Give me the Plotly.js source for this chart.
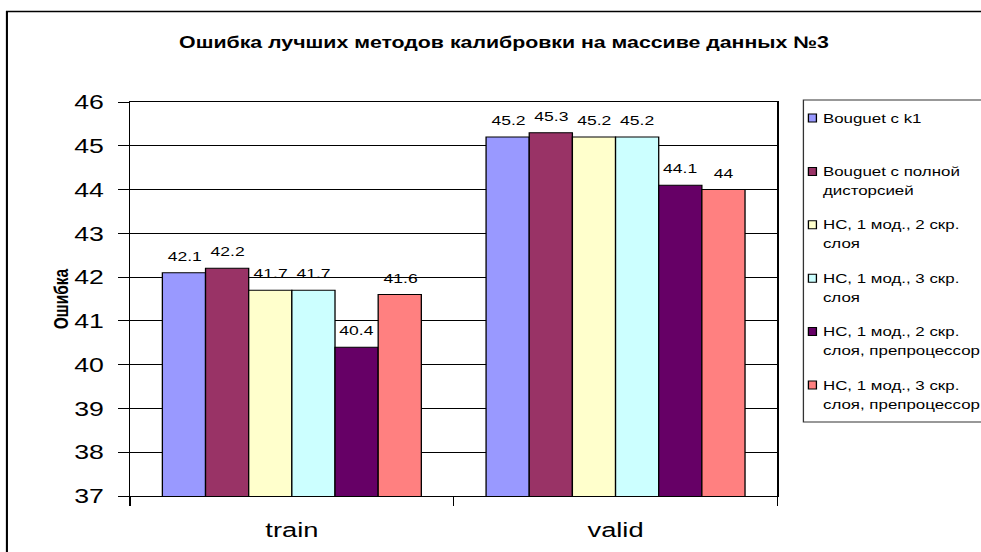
<!DOCTYPE html>
<html>
<head>
<meta charset="utf-8">
<script src="https://cdn.plot.ly/plotly-3.0.1.min.js"></script>
<style>
  html, body { margin: 0; padding: 0; background: #fff; overflow: hidden; }
  #wrap { width: 981px; height: 552px; overflow: hidden; position: relative; }
  #chart { position: absolute; left: 0; top: 0; transform-origin: 0 0; }
</style>
</head>
<body>
<div id="wrap"><div id="chart"></div></div>
<script>
// Calibration error of the best methods, data set #3
const categories = ['train', 'valid'];

// Series labels; "\n" marks where the legend wraps the text
const seriesNames = [
  'Bouguet с k1',
  'Bouguet с полной\nдисторсией',
  'НС, 1 мод., 2 скр.\nслоя',
  'НС, 1 мод., 3 скр.\nслоя',
  'НС, 1 мод., 2 скр.\nслоя, препроцессор',
  'НС, 1 мод., 3 скр.\nслоя, препроцессор'
];

const bougetK1      = [42.1, 45.2];
const bougetFull    = [42.2, 45.3];
const ns2Layers     = [41.7, 45.2];
const ns3Layers     = [41.7, 45.2];
const ns2LayersPre  = [40.4, 44.1];
const ns3LayersPre  = [41.6, 44.0];

const seriesValues = [bougetK1, bougetFull, ns2Layers, ns3Layers, ns2LayersPre, ns3LayersPre];
const seriesColors = ['#9999FF', '#993366', '#FFFFCC', '#CCFFFF', '#660066', '#FF8080'];

const yTickValues = [37, 38, 39, 40, 41, 42, 43, 44, 45, 46];

// Page geometry: the chart is drawn narrower and widened horizontally
const PAGE_W = 981, PAGE_H = 552;
const S = 1.3;
const W = PAGE_W / S;
const M = { l: 130 / S, r: W - 777 / S, t: 102, b: 56 };
const plotW = W - M.l - M.r;
const plotH = PAGE_H - M.t - M.b;
const BARGAP = 0.2;

// page pixel -> paper coordinates
const px = x => (x / S - M.l) / plotW;
const py = y => (PAGE_H - M.b - y) / plotH;

const FONT = 'Liberation Sans, Arial, sans-serif';

const traces = seriesValues.map((vals, i) => ({
  type: 'bar',
  name: seriesNames[i].replace('\n', ' '),
  x: categories,
  y: vals,
  marker: { color: seriesColors[i], line: { color: '#000', width: 1 } },
  showlegend: false,
  hoverinfo: 'x+y+name'
}));

const annotations = [];
const shapes = [];

// value labels above each bar
const n = seriesValues.length;
seriesValues.forEach((vals, i) => {
  vals.forEach((v, j) => {
    annotations.push({
      x: j + (i - (n - 1) / 2) * (1 - BARGAP) / n,
      y: v, xref: 'x', yref: 'y',
      text: String(v), showarrow: false,
      yanchor: 'bottom', yshift: 7,
      font: { family: FONT, size: 13.5, color: '#000' }
    });
  });
});

// legend box
shapes.push({
  type: 'rect', xref: 'paper', yref: 'paper',
  x0: px(803), x1: px(1100), y0: py(422), y1: py(100),
  line: { color: '#333', width: 1 }, fillcolor: '#fff', layer: 'above'
});
const legendTop = 118, legendStep = 53.4, lineStep = 19;
seriesNames.forEach((name, i) => {
  const yc = legendTop + i * legendStep;
  shapes.push({
    type: 'rect', xref: 'paper', yref: 'paper',
    x0: px(808), x1: px(816), y0: py(yc + 4), y1: py(yc - 4),
    line: { color: '#000', width: 1 }, fillcolor: seriesColors[i], layer: 'above'
  });
  name.split('\n').forEach((line, k) => {
    annotations.push({
      xref: 'paper', yref: 'paper',
      x: px(820), y: py(yc + k * lineStep),
      xanchor: 'left', yanchor: 'middle',
      text: line, showarrow: false,
      font: { family: FONT, size: 13, color: '#000' }
    });
  });
});

// chart area frame
shapes.push({
  type: 'path', xref: 'paper', yref: 'paper',
  path: `M ${px(7)},${py(600)} L ${px(7)},${py(11.5)} L ${px(1100)},${py(11.5)}`,
  line: { color: '#000', width: 1.6 }
});

const layout = {
  width: W, height: PAGE_H,
  margin: { l: M.l, r: M.r, t: M.t, b: M.b, pad: 0, autoexpand: false },
  paper_bgcolor: '#fff', plot_bgcolor: '#fff',
  font: { family: FONT, color: '#000' },
  title: {
    text: 'Ошибка лучших методов калибровки на массиве данных №3',
    font: { family: FONT, size: 16.4, weight: 700, color: '#000' },
    xref: 'container', x: 504 / PAGE_W, xanchor: 'center',
    yref: 'container', y: 1 - 42 / PAGE_H, yanchor: 'middle'
  },
  barmode: 'group', bargap: BARGAP, bargroupgap: 0,
  showlegend: false,
  xaxis: {
    type: 'category',
    showline: true, linecolor: '#000', linewidth: 1, mirror: true,
    ticks: 'outside', tickson: 'boundaries', ticklen: 9, tickcolor: '#000', tickwidth: 1,
    tickfont: { family: FONT, size: 21, color: '#000' },
    ticklabelstandoff: 15,
    showgrid: false, zeroline: false
  },
  yaxis: {
    range: [37, 46], tickvals: yTickValues,
    showline: true, linecolor: '#000', linewidth: 1, mirror: true,
    ticks: 'outside', ticklen: 8, tickcolor: '#000', tickwidth: 1,
    tickfont: { family: FONT, size: 20.5, color: '#000' },
    ticklabelstandoff: 7,
    showgrid: true, gridcolor: '#000', gridwidth: 1, zeroline: false,
    title: { text: 'Ошибка', font: { family: FONT, size: 15.5, weight: 700, color: '#000' }, standoff: 0 }
  },
  annotations: annotations,
  shapes: shapes
};

const el = document.getElementById('chart');
el.style.transform = `scaleX(${S})`;
Plotly.newPlot(el, traces, layout, { displayModeBar: false, responsive: false });
</script>
</body>
</html>
